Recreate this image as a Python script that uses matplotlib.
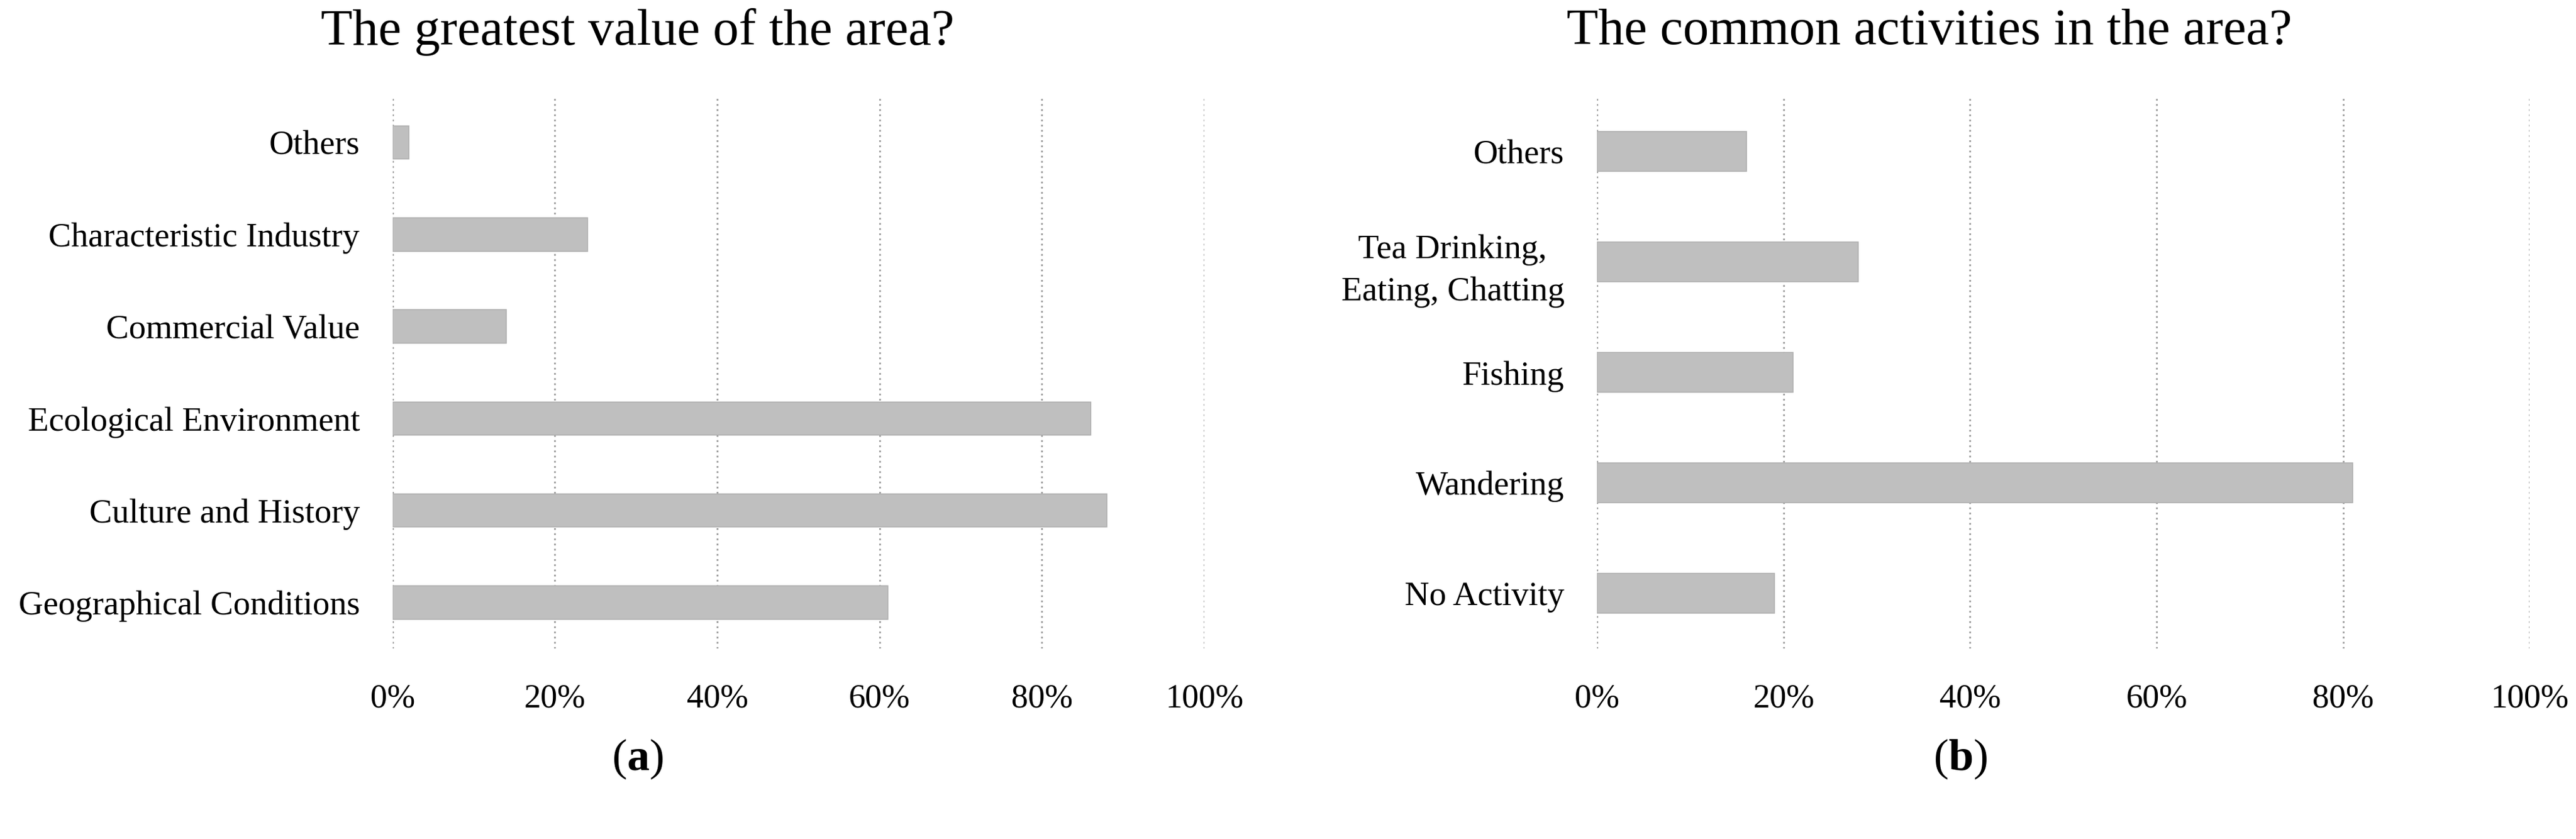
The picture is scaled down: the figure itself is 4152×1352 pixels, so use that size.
import numpy as np
import matplotlib
matplotlib.use("Agg")
import matplotlib.pyplot as plt

plt.rcParams['font.family'] = ['Liberation Serif', 'DejaVu Serif']
plt.rcParams['mathtext.fontset'] = 'custom'
plt.rcParams['mathtext.rm'] = 'Liberation Serif'
plt.rcParams['mathtext.bf'] = 'Liberation Serif:bold'

# panel (a)
values_cats = ["Geographical Conditions", "Culture and History", "Ecological Environment",
               "Commercial Value", "Characteristic Industry", "Others"]
values_pct = [61, 88, 86, 14, 24, 2]

# panel (b)
activity_cats = ["No Activity", "Wandering", "Fishing",
                 "Tea Drinking,\nEating, Chatting", "Others"]
activity_pct = [19, 81, 21, 28, 16]

x_ticks = [0, 20, 40, 60, 80, 100]
x_labels = ["0%", "20%", "40%", "60%", "80%", "100%"]

bar_color = '#BFBFBF'
grid_color = '#9A9A9A'

fig = plt.figure(figsize=(41.52, 13.52), dpi=100)


def draw(ax, cats, vals):
    y = np.arange(len(cats))
    ax.barh(y, vals, height=0.36, color=bar_color, edgecolor='#B0B0B0', linewidth=1.2, zorder=3)
    ax.set_ylim(-0.5, len(cats) - 0.5)
    ax.set_xlim(0, 100)
    ax.set_yticks(y)
    ax.set_yticklabels(cats, fontsize=39.5)
    ax.set_xticks(x_ticks)
    ax.set_xticklabels(x_labels, fontsize=39)
    ax.tick_params(axis='y', length=0, pad=38)
    ax.tick_params(axis='x', length=0, pad=40)
    for s in ax.spines.values():
        s.set_visible(False)
    for t in x_ticks:
        ax.axvline(t, color=grid_color, linestyle=(0, (1, 2)), linewidth=2, zorder=1)
    for lab in ax.get_yticklabels():
        lab.set_multialignment('center')
        lab.set_linespacing(1.45)


ax1 = fig.add_axes([0.1524, 0.227, 0.3151, 0.658])
draw(ax1, values_cats, values_pct)

ax2 = fig.add_axes([0.620, 0.227, 0.362, 0.658])
draw(ax2, activity_cats, activity_pct)

fig.text(0.2474, 0.962, "The greatest value of the area?", fontsize=60, ha='center', va='center')
fig.text(0.749, 0.962, "The common activities in the area?", fontsize=60, ha='center', va='center')
fig.text(0.2474, 0.095, r"($\mathbf{a}$)", fontsize=52, ha='center', va='center')
fig.text(0.761, 0.095, r"($\mathbf{b}$)", fontsize=52, ha='center', va='center')

fig.savefig("out.png", dpi=100, facecolor='white')
